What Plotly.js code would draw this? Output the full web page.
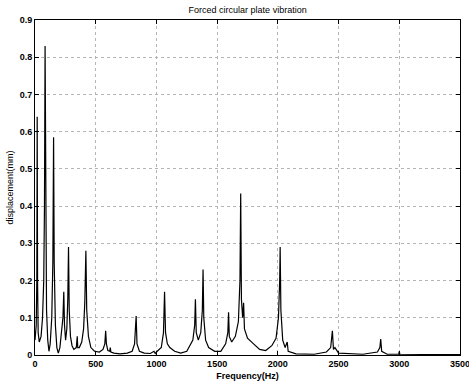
<!DOCTYPE html>
<html>
<head>
<meta charset="utf-8">
<script src="https://cdn.plot.ly/plotly-3.0.1.min.js"></script>
<style>html,body{margin:0;padding:0;background:#fff;}#chart{width:469px;height:386px;}</style>
</head>
<body>
<div id="chart"></div>
<script>
const frequency = [0,10,15,18,21,26,35,50,62,72,78,83,88,95,105,115,125,138,147,153,158,168,180,192,205,220,230,237,243,252,262,270,276,282,292,305,320,340,348,352,365,385,400,410,419,426,440,460,490,530,560,575,582,588,600,615,620,625,650,700,760,800,820,833,840,860,900,950,980,990,1000,1040,1058,1067,1075,1090,1110,1150,1200,1250,1300,1315,1321,1328,1345,1365,1378,1384,1390,1405,1430,1480,1530,1570,1588,1594,1600,1620,1650,1675,1688,1694,1700,1710,1718,1725,1750,1800,1850,1900,1950,1985,2005,2015,2019,2025,2040,2060,2077,2085,2150,2300,2400,2435,2449,2458,2470,2500,2700,2820,2840,2847,2855,2900,2995,3000,3005,3500];
const displacement = [0.04,0.08,0.2,0.64,0.2,0.06,0.035,0.05,0.1,0.2,0.4,0.83,0.35,0.12,0.04,0.01,0.03,0.1,0.25,0.585,0.25,0.08,0.02,0.005,0.02,0.06,0.1,0.17,0.08,0.04,0.07,0.15,0.29,0.12,0.05,0.025,0.015,0.02,0.05,0.02,0.02,0.035,0.07,0.14,0.28,0.12,0.05,0.02,0.01,0.008,0.015,0.03,0.065,0.03,0.012,0.01,0.02,0.008,0.005,0.003,0.005,0.01,0.03,0.105,0.03,0.01,0.005,0.004,0.01,0.004,0.008,0.02,0.06,0.17,0.06,0.03,0.02,0.01,0.005,0.01,0.04,0.08,0.15,0.06,0.04,0.06,0.12,0.23,0.1,0.04,0.02,0.01,0.01,0.03,0.06,0.115,0.05,0.035,0.05,0.09,0.2,0.434,0.15,0.1,0.14,0.07,0.045,0.03,0.015,0.012,0.025,0.045,0.1,0.2,0.29,0.12,0.04,0.02,0.035,0.01,0.003,0.002,0.008,0.02,0.065,0.015,0.02,0.005,0.002,0.008,0.02,0.043,0.01,0.002,0.002,0.01,0.002,0.001];
const xTicks = [0,500,1000,1500,2000,2500,3000,3500];
const yTicks = [0,0.1,0.2,0.3,0.4,0.5,0.6,0.7,0.8,0.9];

const fam = 'Liberation Sans, Arial, sans-serif';
const tickFont = {family: fam, size: 9, color: '#000', weight: 'bold'};
const axisCommon = {
  showline: true, linecolor: '#000', linewidth: 1, mirror: 'ticks',
  ticks: 'inside', ticklen: 4, tickcolor: '#000', tickwidth: 1,
  showgrid: true, gridcolor: '#b4b4b4', griddash: 'dot', gridwidth: 1,
  zeroline: false, tickfont: tickFont, ticklabeloverflow: 'allow'
};

Plotly.newPlot('chart', [{
  x: frequency, y: displacement, type: 'scatter', mode: 'lines',
  line: {color: '#000', width: 1.2}, hoverinfo: 'skip'
}], {
  width: 469, height: 386,
  margin: {l: 35, r: 9, t: 20, b: 31},
  paper_bgcolor: '#fff', plot_bgcolor: '#fff',
  showlegend: false,
  title: {text: 'Forced circular plate vibration', font: {family: fam, size: 9, color: '#000'}, x: 0.528, xanchor: 'center', y: 0.975, yanchor: 'middle'},
  xaxis: Object.assign({}, axisCommon, {
    range: [0, 3500], tickvals: xTicks, ticktext: xTicks.map(String),
    title: {text: 'Frequency(Hz)', font: {family: fam, size: 9, color: '#000', weight: 'bold'}, standoff: 4}
  }),
  yaxis: Object.assign({}, axisCommon, {
    range: [0, 0.9], tickvals: yTicks, ticktext: yTicks.map(v => String(v)),
    title: {text: 'displacement(mm)', font: {family: fam, size: 9, color: '#000'}, standoff: 4}
  })
}, {displayModeBar: false, staticPlot: true});
</script>
</body>
</html>
